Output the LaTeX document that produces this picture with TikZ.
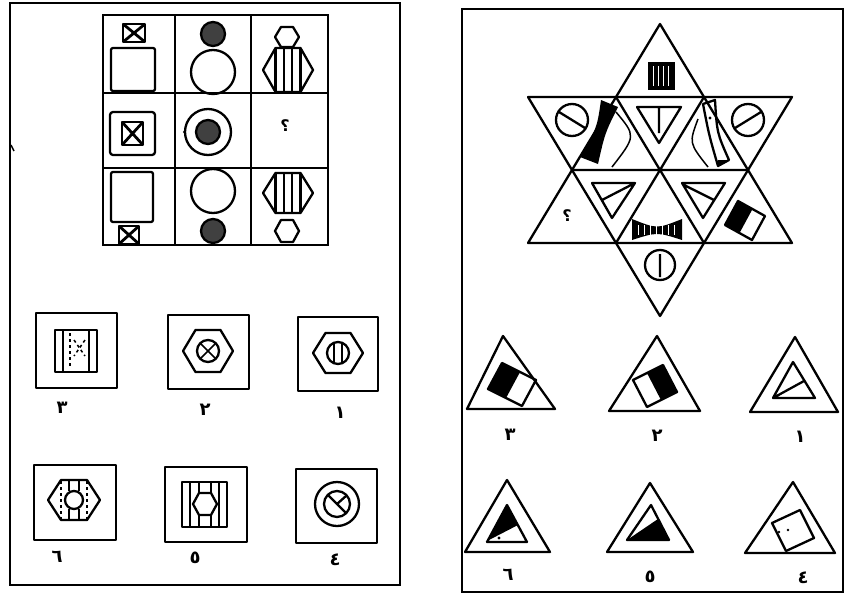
\documentclass[tikz,border=0pt]{standalone}
\usepackage{fontspec}
\newfontfamily\arabicfont[Script=Arabic]{DejaVu Sans}

% hexagon with points left and right: centre x, centre y, half width, half height
\newcommand\hexat[4]{(#1-#3,#2)--(#1-#3/2,#2-#4)--(#1+#3/2,#2-#4)--(#1+#3,#2)--(#1+#3/2,#2+#4)--(#1-#3/2,#2+#4)--cycle}

\tikzset{
  panel/.style={line width=1.6pt},
  gridline/.style={line width=1.3pt},
  figline/.style={line width=2.3pt, line join=round},
  thinfig/.style={line width=1.5pt, line join=round},
  digit/.style={font=\arabicfont\bfseries\fontsize{18}{18}\selectfont, inner sep=0pt},
  ask/.style={font=\arabicfont\bfseries\fontsize{16}{16}\selectfont, inner sep=0pt},
}

\begin{document}
\begin{tikzpicture}[x=1pt, y=-1pt]
  \useasboundingbox (0,0) rectangle (847,595);

  % panels
  \draw[panel] (10,3) rectangle (400,585);
  \draw[panel] (462,9) rectangle (843,592);
  \draw[thinfig] (11,145) -- (14,151);

  % matrix
  \draw[gridline] (103,15) rectangle (328,245);
  \draw[gridline] (175,15) -- (175,245) (251,15) -- (251,245);
  \draw[gridline] (103,93) -- (328,93) (103,168) -- (328,168);

  % column 1
  \draw[figline, rounded corners=2pt] (111,48) rectangle (155,91);
  \draw[figline] (123,24) rectangle (145,42);
  \draw[line width=2.8pt] (123,24) -- (145,42) (145,24) -- (123,42);
  \draw[figline, rounded corners=3pt] (110,112) rectangle (155,155);
  \draw[figline] (122,122) rectangle (143,145);
  \draw[line width=2.8pt] (122,122) -- (143,145) (143,122) -- (122,145);
  \draw[figline, rounded corners=2pt] (111,172) rectangle (153,222);
  \draw[figline] (119,226) rectangle (139,244);
  \draw[line width=2.8pt] (119,226) -- (139,244) (139,226) -- (119,244);

  % column 2
  \draw[figline, fill=black!75] (213,34) circle (12);
  \draw[figline] (213,72) circle (22);
  \draw[figline] (208,132) circle (23);
  \draw[figline, fill=black!75] (208,132) circle (12);
  \fill (184,132) circle (1.2);
  \draw[figline] (213,191) circle (22);
  \draw[figline, fill=black!75] (213,231) circle (12);

  % column 3
  \draw[figline] \hexat{287}{37}{12}{10};
  \draw[figline] \hexat{288}{70}{25}{22};
  \foreach \dx in {-12.5,-4,4,12.5}
    \draw[figline] (288+\dx,48) -- (288+\dx,92);
  \draw[figline] \hexat{288}{193}{25}{20};
  \foreach \dx in {-12.5,-4,4,12.5}
    \draw[figline] (288+\dx,173) -- (288+\dx,213);
  \draw[figline] \hexat{287}{231}{12}{11};
  \node[ask] (qa) at (285,126) {؟};

  % choices, left
  \foreach \name/\xa/\ya/\xb/\yb in {b3/36/313/117/388, b2/168/315/249/389, b1/298/317/378/391,
                                     b6/34/465/116/540, b5/165/467/247/542, b4/296/469/377/543}
    \draw[thinfig] (\xa,\ya) rectangle (\xb,\yb);

  \draw[figline] (55,330) rectangle (97,372) (63,330) -- (63,372) (89,330) -- (89,372);
  \draw[thinfig, dashed] (70,333) -- (70,369);
  \draw[thinfig, dashed] (74,340) -- (85,356) (85,340) -- (74,356);

  \draw[figline] \hexat{208}{351}{25}{21};
  \draw[figline] (208,351) circle (11);
  \draw[thinfig] (200,343) -- (216,359) (216,343) -- (200,359);

  \draw[figline] \hexat{338}{353}{25}{20};
  \draw[figline] (338,353) circle (11);
  \draw[thinfig] (334,344) -- (334,362) (342,344) -- (342,362);

  \draw[figline] \hexat{74}{500}{26}{20};
  \draw[figline] (74,500) circle (9);
  \draw[thinfig, dashed] (61,481) -- (61,519) (87,481) -- (87,519);
  \draw[thinfig] (69,480) -- (69,491) (79,480) -- (79,491) (69,509) -- (69,520) (79,509) -- (79,520);

  \draw[figline] (182,482) rectangle (227,527) (190,482) -- (190,527) (219,482) -- (219,527);
  \draw[figline] \hexat{205}{504}{12}{11};
  \draw[thinfig] (199,482) -- (199,493) (211,482) -- (211,493) (199,515) -- (199,527) (211,515) -- (211,527);

  \draw[figline] (337,504) circle (22);
  \draw[figline] (337,504) circle (13);
  \draw[figline] (328,495) -- (346,513) (337,504) -- (346,496);

  \node[digit] (c3) at (62,408) {٣};
  \node[digit] (c2) at (205,410) {٢};
  \node[digit] (c1) at (340,413) {١};
  \node[digit] (c6) at (57,557) {٦};
  \node[digit] (c5) at (195,558) {٥};
  \node[digit] (c4) at (335,560) {٤};

  % star
  \draw[figline] (660,24) -- (528,243) -- (792,243) -- cycle;
  \draw[figline] (528,97) -- (792,97) -- (660,316) -- cycle;
  \draw[figline] (572,170) -- (748,170) (616,97) -- (704,243) (704,97) -- (616,243);

  \fill (648,62) rectangle (675,90);
  \foreach \x in {653,658,663,668}
    \draw[white, line width=0.8pt] (\x,66) -- (\x,86);

  \draw[figline] (572,120) circle (16) (559,112) -- (585,128);
  \draw[figline] (748,120) circle (16) (735,128) -- (761,112);
  \draw[figline] (637,107) -- (681,107) -- (659,143) -- cycle (659,107) -- (659,133);

  \fill (601,100) -- (618,107) .. controls (605,133) .. (598,164) -- (580,157) .. controls (597,128) .. cycle;
  \draw[thinfig] (616,112) .. controls (636,136) .. (612,167);
  \draw[figline] (703,104) -- (715,100) .. controls (717,133) .. (729,160) -- (718,166) .. controls (709,135) .. cycle;
  \fill (710,118) circle (1.6);
  \fill (718,160) -- (729,160) -- (718,166) -- cycle;
  \draw[thinfig] (698,119) .. controls (689,143) .. (708,167);

  \node[ask] (qb) at (567,216) {؟};

  \draw[figline] (592,183) -- (635,183) -- (612,218) -- cycle (602,200) -- (633,184);
  \draw[figline] (682,183) -- (725,183) -- (703,218) -- cycle (684,185) -- (714,200);

  \fill (632,219) .. controls (657,229) .. (682,219) -- (682,240) .. controls (657,232) .. (632,240) -- cycle;
  \foreach \x in {638,644,650,656,662,668,674}
    \draw[white, line width=0.8pt] (\x,225) -- (\x,235);

  \fill (738,201) -- (751.5,208.5) -- (738.5,232.5) -- (725,225) -- cycle;
  \draw[figline] (738,201) -- (765,216) -- (752,240) -- (725,225) -- cycle (751.5,208.5) -- (738.5,232.5);

  \draw[figline] (660,265) circle (15) (660,254) -- (660,277);

  % choices, right
  \draw[figline] (503,336) -- (467,409) -- (555,409) -- cycle;
  \fill (502,363) -- (519,371.5) -- (505,397.5) -- (488,389) -- cycle;
  \draw[figline] (502,363) -- (536,380) -- (522,406) -- (488,389) -- cycle (519,371.5) -- (505,397.5);

  \draw[figline] (657,336) -- (609,411) -- (700,411) -- cycle;
  \fill (648,372.5) -- (663,365) -- (677,392) -- (662,399.5) -- cycle;
  \draw[figline] (633,380) -- (663,365) -- (677,392) -- (647,407) -- cycle (648,372.5) -- (662,399.5);

  \draw[figline] (795,337) -- (750,412) -- (838,412) -- cycle;
  \draw[figline] (793,362) -- (773,398) -- (815,398) -- cycle (773,398) -- (804,381);

  \draw[figline] (507,480) -- (465,552) -- (550,552) -- cycle;
  \fill (507,505) -- (489,540) -- (518,525) -- cycle;
  \draw[figline] (507,505) -- (487,542) -- (527,542) -- cycle;
  \fill (499,538) circle (1.6);

  \draw[figline] (650,483) -- (607,552) -- (693,552) -- cycle;
  \fill (627,540) -- (658,519) -- (669,540) -- cycle;
  \draw[figline] (651,505) -- (627,540) -- (669,540) -- cycle;

  \draw[figline] (793,482) -- (745,553) -- (835,553) -- cycle;
  \draw[figline] (772,523) -- (800,510) -- (814,538) -- (786,551) -- cycle;
  \fill (779,532) circle (1.4) (788,530) circle (1.4);

  \node[digit] (r3) at (510,435) {٣};
  \node[digit] (r2) at (657,436) {٢};
  \node[digit] (r1) at (800,437) {١};
  \node[digit] (r6) at (508,575) {٦};
  \node[digit] (r5) at (650,577) {٥};
  \node[digit] (r4) at (803,578) {٤};
\end{tikzpicture}
\end{document}
